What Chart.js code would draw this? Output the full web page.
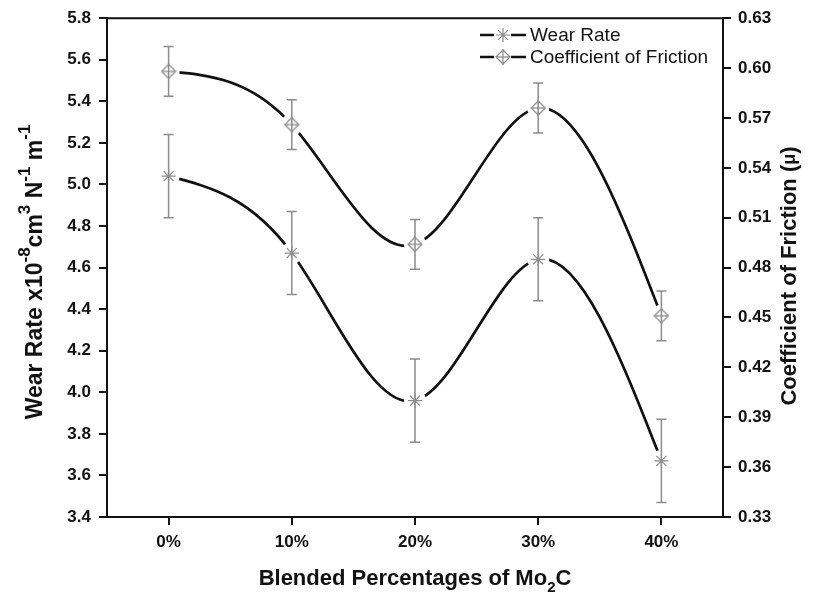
<!DOCTYPE html>
<html>
<head>
<meta charset="utf-8">
<script src="https://cdn.jsdelivr.net/npm/chart.js@4/dist/chart.umd.min.js"></script>
<style>
  html, body { margin: 0; padding: 0; background: #fff; }
  #wrap { width: 813px; height: 597px; position: relative; }
</style>
</head>
<body>
<div id="wrap"><canvas id="c" width="813" height="597"></canvas></div>
<script>
// Mo2C blend levels
const categories = ['0%', '10%', '20%', '30%', '40%'];

// Wear rate (x10^-8 cm^3 N^-1 m^-1) with error
const wearRate = [5.04, 4.67, 3.96, 4.64, 3.67];
const wearErr  = [0.20, 0.20, 0.20, 0.20, 0.20];

// Coefficient of friction (mu) with error
const friction    = [0.598, 0.566, 0.494, 0.576, 0.451];
const frictionErr = [0.015, 0.015, 0.015, 0.015, 0.015];

// Axis tick values
const wearTicks     = [3.4, 3.6, 3.8, 4.0, 4.2, 4.4, 4.6, 4.8, 5.0, 5.2, 5.4, 5.6, 5.8];
const frictionTicks = [0.33, 0.36, 0.39, 0.42, 0.45, 0.48, 0.51, 0.54, 0.57, 0.60, 0.63];

const FONT = '"Liberation Sans", Arial, sans-serif';
const MARK = '#8c8c8c';
const INK = '#111';

// hollow diamond with a horizontal bar through it
function diamondMarker() {
  const s = 16, c = document.createElement('canvas');
  c.width = s; c.height = s;
  const g = c.getContext('2d');
  g.strokeStyle = MARK; g.lineWidth = 1.3;
  g.beginPath();
  g.moveTo(s / 2, 1); g.lineTo(s - 1, s / 2); g.lineTo(s / 2, s - 1); g.lineTo(1, s / 2); g.closePath();
  g.stroke();
  g.beginPath(); g.moveTo(1, s / 2); g.lineTo(s - 1, s / 2); g.stroke();
  return c;
}
const diamond = diamondMarker();

const series = [
  { vals: wearRate, err: wearErr, axis: 'y', marker: { pointStyle: 'star', radius: 7, borderWidth: 1.2, rotation: 0 } },
  { vals: friction, err: frictionErr, axis: 'y2', marker: { pointStyle: diamond, radius: 8, borderWidth: 1, rotation: 0 } }
];

const pts = (vals) => vals.map((v, i) => ({ x: i, y: v }));

// first derivatives of a natural cubic spline on unit-spaced x
function splineSlopes(y) {
  const n = y.length, M = new Array(n).fill(0);
  if (n > 2) {
    const a = [], b = [], c = [], d = [];
    for (let i = 1; i < n - 1; i++) {
      a.push(1); b.push(4); c.push(1);
      d.push(6 * (y[i - 1] - 2 * y[i] + y[i + 1]));
    }
    const m = d.length;
    for (let i = 1; i < m; i++) {
      const w = a[i] / b[i - 1];
      b[i] -= w * c[i - 1];
      d[i] -= w * d[i - 1];
    }
    const sol = new Array(m);
    sol[m - 1] = d[m - 1] / b[m - 1];
    for (let i = m - 2; i >= 0; i--) sol[i] = (d[i] - c[i] * sol[i + 1]) / b[i];
    for (let i = 0; i < m; i++) M[i + 1] = sol[i];
  }
  const s = [];
  for (let i = 0; i < n - 1; i++) s.push((y[i + 1] - y[i]) - (2 * M[i] + M[i + 1]) / 6);
  s.push((y[n - 1] - y[n - 2]) + (2 * M[n - 1] + M[n - 2]) / 6);
  return s;
}

// set each line's bezier handles from the spline slopes
const splineCurves = {
  id: 'splineCurves',
  beforeDatasetsDraw(chart) {
    chart.data.datasets.forEach((ds, di) => {
      const meta = chart.getDatasetMeta(di);
      meta.dataset.updateControlPoints(chart.chartArea, meta.iScale.axis);
      const ys = chart.scales[ds.yAxisID], xs = chart.scales.x;
      const vals = ds.data.map(p => p.y);
      const slopes = splineSlopes(vals);
      const pxPerX = xs.getPixelForValue(1) - xs.getPixelForValue(0);
      const pxPerY = ys.getPixelForValue(1) - ys.getPixelForValue(0);
      meta.data.forEach((pt, i) => {
        const k = slopes[i] * pxPerY / pxPerX;
        const h = pxPerX / 3;
        pt.cp1x = pt.x - h; pt.cp1y = pt.y - k * h;
        pt.cp2x = pt.x + h; pt.cp2y = pt.y + k * h;
      });
    });
  }
};

// line breaks round the markers, error bars, then markers
const markers = {
  id: 'markers',
  afterDatasetsDraw(chart) {
    const ctx = chart.ctx, xs = chart.scales.x;
    ctx.save();
    series.forEach(s => {
      const ys = chart.scales[s.axis];
      s.vals.forEach((v, i) => {
        ctx.fillStyle = '#fff';
        ctx.beginPath();
        ctx.arc(xs.getPixelForValue(i), ys.getPixelForValue(v), 11, 0, Math.PI * 2);
        ctx.fill();
      });
    });
    ctx.strokeStyle = MARK;
    ctx.lineWidth = 1.5;
    series.forEach(s => {
      const ys = chart.scales[s.axis];
      s.vals.forEach((v, i) => {
        const x = xs.getPixelForValue(i);
        const top = ys.getPixelForValue(v + s.err[i]);
        const bot = ys.getPixelForValue(v - s.err[i]);
        ctx.beginPath();
        ctx.moveTo(x, top); ctx.lineTo(x, bot);
        ctx.moveTo(x - 5, top); ctx.lineTo(x + 5, top);
        ctx.moveTo(x - 5, bot); ctx.lineTo(x + 5, bot);
        ctx.stroke();
      });
    });
    series.forEach(s => {
      const ys = chart.scales[s.axis];
      s.vals.forEach((v, i) => {
        ctx.strokeStyle = MARK; ctx.lineWidth = 1.2;
        Chart.helpers.drawPoint(ctx, s.marker, xs.getPixelForValue(i), ys.getPixelForValue(v));
      });
    });
    ctx.restore();
  }
};

// draws a run of text pieces; pieces may be raised/lowered and smaller
function richText(ctx, pieces, size, cx, cy, rot, weight) {
  ctx.save();
  ctx.translate(cx, cy);
  ctx.rotate(rot);
  const w = weight || 'bold';
  let total = 0;
  pieces.forEach(p => {
    ctx.font = w + ' ' + Math.round(size * (p.s || 1)) + 'px ' + FONT;
    total += ctx.measureText(p.t).width;
  });
  let x = -total / 2;
  ctx.fillStyle = INK;
  ctx.textBaseline = 'middle';
  ctx.textAlign = 'left';
  pieces.forEach(p => {
    ctx.font = w + ' ' + Math.round(size * (p.s || 1)) + 'px ' + FONT;
    ctx.fillText(p.t, x, (p.dy || 0) * size);
    x += ctx.measureText(p.t).width;
  });
  ctx.restore();
}

const titles = {
  id: 'titles',
  afterDraw(chart) {
    const ctx = chart.ctx, a = chart.chartArea;
    // frame top edge
    ctx.save();
    ctx.strokeStyle = INK; ctx.lineWidth = 2;
    ctx.beginPath(); ctx.moveTo(a.left, a.top); ctx.lineTo(a.right, a.top); ctx.stroke();
    ctx.restore();

    richText(ctx, [
      { t: 'Wear Rate x10' }, { t: '-8', s: 0.75, dy: -0.45 }, { t: 'cm' }, { t: '3', s: 0.75, dy: -0.45 },
      { t: ' N' }, { t: '-1', s: 0.75, dy: -0.45 }, { t: ' m' }, { t: '-1', s: 0.75, dy: -0.45 }
    ], 23, 36, 272, -Math.PI / 2);

    richText(ctx, [{ t: 'Coefficient of Friction (' }, { t: 'μ', s: 0.8 }, { t: ')' }],
      22, 790, 276, -Math.PI / 2);

    richText(ctx, [{ t: 'Blended Percentages of Mo' }, { t: '2', s: 0.7, dy: 0.4 }, { t: 'C' }],
      22, (a.left + a.right) / 2, 579, 0);

    // legend
    const rows = [
      { label: 'Wear Rate', y: 35, s: series[0] },
      { label: 'Coefficient of Friction', y: 57, s: series[1] }
    ];
    ctx.save();
    rows.forEach(r => {
      ctx.strokeStyle = INK; ctx.lineWidth = 2.6;
      ctx.beginPath(); ctx.moveTo(480, r.y); ctx.lineTo(494, r.y); ctx.moveTo(511, r.y); ctx.lineTo(526, r.y); ctx.stroke();
      ctx.strokeStyle = MARK; ctx.lineWidth = 1.2;
      Chart.helpers.drawPoint(ctx, r.s.marker, 503, r.y);
      if (r.s === series[1]) {
        ctx.beginPath(); ctx.moveTo(503, r.y - 8); ctx.lineTo(503, r.y + 8); ctx.stroke();
      }
      ctx.fillStyle = INK;
      ctx.font = '19px ' + FONT;
      ctx.textBaseline = 'middle';
      ctx.textAlign = 'left';
      ctx.fillText(r.label, 530, r.y + 1);
    });
    ctx.restore();
  }
};

const tickFont = { family: FONT, size: 17, weight: 'bold' };
const axisLine = { color: INK, width: 2 };
const tickGrid = { drawOnChartArea: false, drawTicks: true, tickLength: 8, color: INK, lineWidth: 2 };

new Chart(document.getElementById('c'), {
  type: 'line',
  data: {
    datasets: [
      {
        label: 'Wear Rate',
        data: pts(wearRate),
        yAxisID: 'y',
        borderColor: INK,
        borderWidth: 2.7,
        tension: 0.4,
        pointRadius: 0
      },
      {
        label: 'Coefficient of Friction',
        data: pts(friction),
        yAxisID: 'y2',
        borderColor: INK,
        borderWidth: 2.7,
        tension: 0.4,
        pointRadius: 0
      }
    ]
  },
  options: {
    responsive: false,
    animation: false,
    events: [],
    layout: { padding: { top: 18, left: 0, right: 0, bottom: 0 } },
    plugins: { legend: { display: false }, tooltip: { enabled: false } },
    scales: {
      x: {
        type: 'linear',
        min: -0.5,
        max: 4.5,
        afterBuildTicks: s => { s.ticks = categories.map((_, i) => ({ value: i })); },
        afterFit: s => { s.height = 80; },
        ticks: { callback: v => categories[v], font: tickFont, color: INK, padding: 7, maxRotation: 0, autoSkip: false },
        grid: tickGrid,
        border: axisLine
      },
      y: {
        position: 'left',
        min: 3.4,
        max: 5.8,
        afterBuildTicks: s => { s.ticks = wearTicks.map(v => ({ value: v })); },
        afterFit: s => { s.width = 107; },
        ticks: { callback: v => v.toFixed(1), font: tickFont, color: INK, padding: 8, autoSkip: false },
        grid: tickGrid,
        border: axisLine
      },
      y2: {
        position: 'right',
        min: 0.33,
        max: 0.63,
        afterBuildTicks: s => { s.ticks = frictionTicks.map(v => ({ value: v })); },
        afterFit: s => { s.width = 90; },
        ticks: { callback: v => v.toFixed(2), font: tickFont, color: INK, padding: 7, autoSkip: false },
        grid: tickGrid,
        border: axisLine
      }
    }
  },
  plugins: [splineCurves, markers, titles]
});
</script>
</body>
</html>
